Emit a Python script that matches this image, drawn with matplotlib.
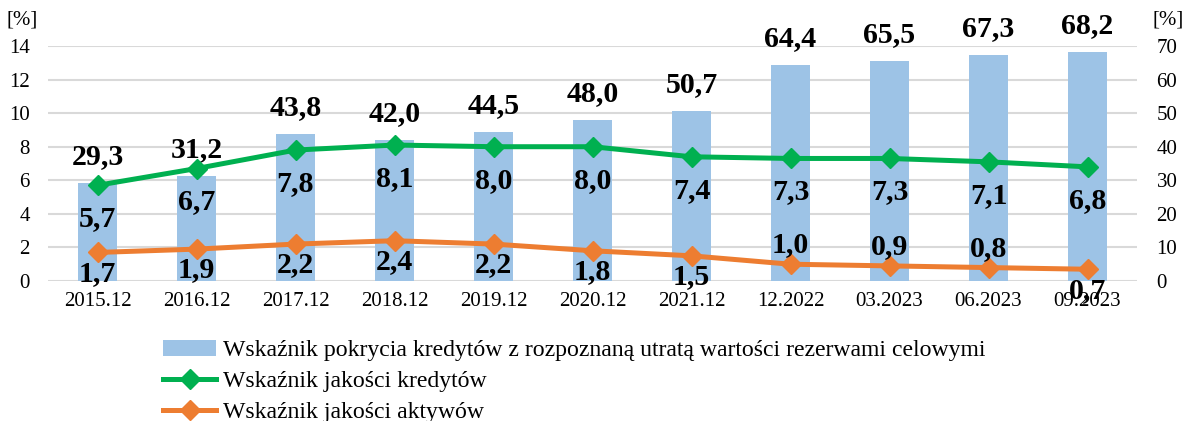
import matplotlib.pyplot as plt
import numpy as np

plt.rcParams['font.family'] = ['Liberation Serif', 'DejaVu Serif']

okresy = ['2015.12', '2016.12', '2017.12', '2018.12', '2019.12', '2020.12',
          '2021.12', '12.2022', '03.2023', '06.2023', '09.2023']
pokrycie = [29.3, 31.2, 43.8, 42.0, 44.5, 48.0, 50.7, 64.4, 65.5, 67.3, 68.2]
jakosc_kredytow = [5.7, 6.7, 7.8, 8.1, 8.0, 8.0, 7.4, 7.3, 7.3, 7.1, 6.8]
jakosc_aktywow = [1.7, 1.9, 2.2, 2.4, 2.2, 1.8, 1.5, 1.0, 0.9, 0.8, 0.7]

nazwy = ['Wskaźnik pokrycia kredytów z rozpoznaną utratą wartości rezerwami celowymi',
         'Wskaźnik jakości kredytów',
         'Wskaźnik jakości aktywów']

kol_slupki = '#9DC3E6'
kol_zielony = '#00B050'
kol_pomar = '#ED7D31'

def fmt(v):
    return f'{v:.1f}'.replace('.', ',')

x = np.arange(len(okresy))

fig = plt.figure(figsize=(11.87, 4.21), dpi=100)
ax = fig.add_axes([48/1187, 1-281/421, (1137-48)/1187, (281-46)/421])
ax2 = ax.twinx()
ax.set_zorder(ax2.get_zorder() + 1)
ax.patch.set_visible(False)

bary = ax2.bar(x, pokrycie, width=0.40, color=kol_slupki, zorder=2, label=nazwy[0])
ax2.set_ylim(0, 70)
ax2.set_yticks(np.arange(0, 71, 10))
ax2.grid(axis='y', color='#D9D9D9', linewidth=1.5, zorder=0)
ax2.set_axisbelow(True)

l1, = ax.plot(x, jakosc_kredytow, color=kol_zielony, lw=3.6, marker='D', markersize=10.5,
              label=nazwy[1])
l2, = ax.plot(x, jakosc_aktywow, color=kol_pomar, lw=3.6, marker='D', markersize=10.5,
              label=nazwy[2])
ax.set_ylim(0, 14)
ax.set_yticks(np.arange(0, 15, 2))
ax.set_xlim(-0.5, len(okresy) - 0.5)
ax.set_xticks(x)
ax.set_xticklabels(okresy)

for a in (ax, ax2):
    for s in a.spines.values():
        s.set_visible(False)
ax.tick_params(axis='y', length=0, pad=13, labelsize=15)
ax2.tick_params(axis='y', length=0, pad=14, labelsize=15)
ax.tick_params(axis='x', length=0, pad=8, labelsize=15)

lab = dict(ha='center', va='center', fontsize=21.5, fontweight='bold', textcoords='offset points')
for i, v in enumerate(pokrycie):
    ax2.annotate(fmt(v), (i, v), xytext=(0, 19), **lab)
for i, v in enumerate(jakosc_kredytow):
    ax.annotate(fmt(v), (i, v), xytext=(0, -24), **lab)
for i, v in enumerate(jakosc_aktywow):
    dy = 14 if 7 <= i <= 9 else -15
    ax.annotate(fmt(v), (i, v), xytext=(0, dy), **lab)

fig.text(22/1187, 1-20/421, '[%]', ha='center', va='center', fontsize=15)
fig.text(1168/1187, 1-20/421, '[%]', ha='center', va='center', fontsize=15)

fig.legend(handles=[bary, l1, l2], loc='upper left',
           bbox_to_anchor=(154/1187, 1-330/421), frameon=False, fontsize=17.1,
           handlelength=2.2, handletextpad=0.3, labelspacing=0.4, borderaxespad=0)

fig.savefig('out.png', dpi=100)
